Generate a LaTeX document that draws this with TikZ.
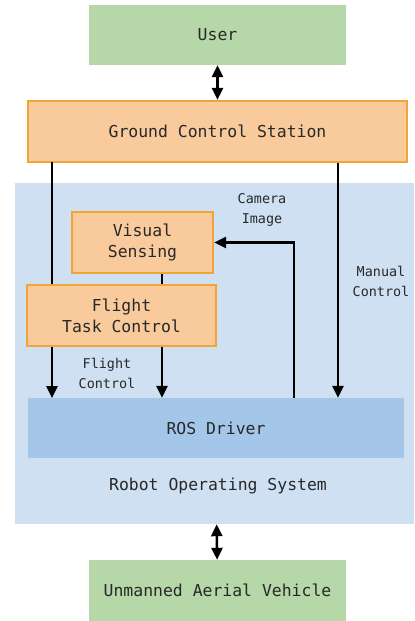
\documentclass[tikz,border=0pt]{standalone}
\usepackage{fontspec}
\setmonofont{DejaVu Sans Mono}
\usetikzlibrary{arrows.meta,positioning}
\definecolor{usrgreen}{RGB}{182,215,168}
\definecolor{gcsorange}{RGB}{249,203,156}
\definecolor{gcsborder}{RGB}{243,164,55}
\definecolor{rosblue}{RGB}{207,224,243}
\definecolor{drvblue}{RGB}{164,198,233}
\definecolor{txtgray}{RGB}{40,40,40}

\begin{document}
\begin{tikzpicture}[
    x=1bp, y=-1bp,
    >={Triangle[length=12bp,width=11bp]},
    plain/.style={rectangle, inner sep=0pt, fill=#1, text=txtgray,
                  font=\ttfamily\fontsize{16.5}{21}\selectfont, align=center},
    okbox/.style={plain=gcsorange, draw=gcsborder, line width=2.2bp},
    lbl/.style={text=txtgray, font=\ttfamily\fontsize{13.5}{20}\selectfont, align=center},
    arrow/.style={->, line width=2.6bp},
    both/.style={<->, line width=2.6bp}
]
\useasboundingbox (0,0) rectangle (414,621);
% Background
\node[plain=rosblue, minimum width=399bp, minimum height=341bp] (ros) at (214.5,353.5) {};
\node[plain=rosblue] (roslbl) at (218,486) {Robot Operating System};

% Boxes
\node[plain=usrgreen, minimum width=257bp, minimum height=60bp] (user) at (217.5,35) {User};
\node[okbox, minimum width=379bp, minimum height=61bp] (gcs) at (217.5,131.5) {Ground Control Station};
\node[plain=drvblue, minimum width=376bp, minimum height=60bp] (drv) at (216,428) {ROS Driver};
\node[plain=usrgreen, minimum width=257bp, minimum height=61bp] (uav) at (217.5,590.5) {Unmanned Aerial Vehicle};

% Arrows behind the inner boxes
\coordinate (gl) at (52,162);
\coordinate (dl) at (52,398);
\draw[arrow] (gl) -- (dl);

\node[okbox, minimum width=141bp, minimum height=61bp] (vis) at (142.5,242.5) {Visual\\Sensing};
\node[okbox, minimum width=189bp, minimum height=61bp] (ftc) at (121.5,315.5) {Flight\\Task Control};

% Links
\draw[both] (user) -- (gcs);
\draw[both] (ros) -- (uav);
\draw[line width=2.6bp] (vis.south -| 162,0) -- (ftc.north -| 162,0);
\draw[arrow] (ftc.south -| 162,0) -- (drv.north -| 162,0);
\draw[arrow] (drv.north -| 294,0) |- (vis.east);
\draw[arrow] (gcs.south -| 338,0) -- (drv.north -| 338,0);

% Labels
\node[lbl] (fclbl) at (107,373) {Flight\\Control};
\node[lbl] (camlbl) at (262,210) {Camera\\Image};
\node[lbl] (mclbl) at (381,281) {Manual\\Control};
\end{tikzpicture}
\end{document}
